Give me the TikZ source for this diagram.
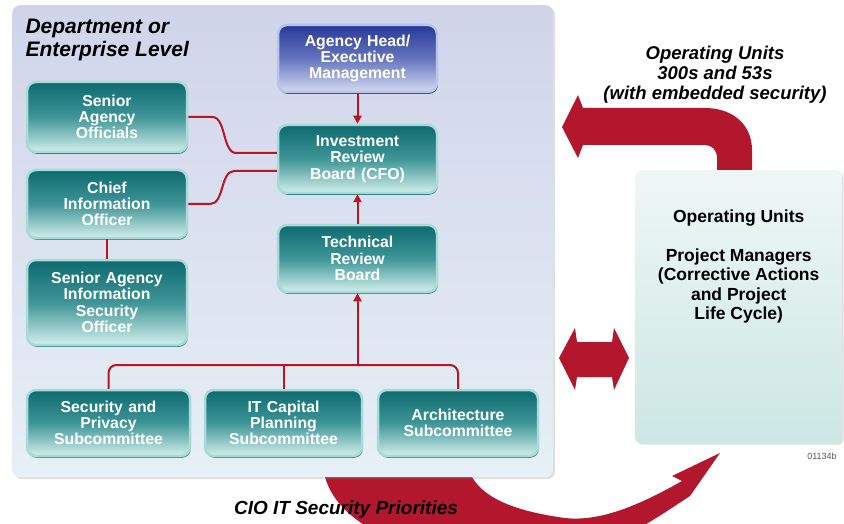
\documentclass[tikz,border=0pt]{standalone}
\usepackage{fontspec}
\setmainfont{Liberation Sans}
\usetikzlibrary{shadows,arrows.meta,calc}
\definecolor{panelTop}{HTML}{D0D4EA}
\definecolor{panelBot}{HTML}{E6F0F6}
\definecolor{tealTop}{HTML}{0D6A6E}
\definecolor{tealMid}{HTML}{3F9597}
\definecolor{tealBot}{HTML}{D2EFEC}
\definecolor{tealRim}{HTML}{A9DAD7}
\definecolor{tealDark}{HTML}{22777A}
\definecolor{blueTop}{HTML}{27399A}
\definecolor{blueMid}{HTML}{6674BE}
\definecolor{blueBot}{HTML}{D5DBF3}
\definecolor{blueRim}{HTML}{B9C4EC}
\definecolor{blueDark}{HTML}{2D3E96}
\definecolor{ouTop}{HTML}{EEF7F6}
\definecolor{ouBot}{HTML}{CCE7E4}
\definecolor{bigRed}{HTML}{B3172E}
\definecolor{lineRed}{HTML}{C0121F}
\tikzset{
  tbox/.style={rounded corners=9pt, draw=tealRim, line width=2.5pt,
    top color=tealTop, bottom color=tealBot, middle color=tealMid,
    text=white, align=center, inner sep=0pt, text width=156pt,
    font=\bfseries\fontsize{15.8}{16.3}\selectfont,
    drop shadow={shadow xshift=0.8pt, shadow yshift=-1.8pt, fill=tealDark, opacity=1}},
  bbox/.style={tbox, draw=blueRim, top color=blueTop, bottom color=blueBot, middle color=blueMid,
    drop shadow={shadow xshift=0.8pt, shadow yshift=-1.8pt, fill=blueDark, opacity=1}},
  conn/.style={draw=lineRed, line width=2pt},
  arr/.style={conn, -{Triangle[length=8pt,width=8pt]}},
  bigarrow/.style={fill=bigRed, draw=none},
  ital/.style={font=\bfseries\itshape\fontsize{18.5}{20}\selectfont, align=center}
}
\begin{document}
\begin{tikzpicture}[x=1pt,y=-1pt]
\useasboundingbox (0,0) rectangle (844,524);
\fill[white] (0,0) rectangle (844,524);

% bottom crescent arrow
\begin{scope}
\clip (0,0) rectangle (844,524);
\fill[bigarrow] (325,470) -- (325,477) .. controls (340,530) and (420,560) .. (520,560)
  .. controls (600,560) and (650,522) .. (690,496) -- (720,453) -- (672,476) -- (682,481)
  .. controls (640,505) and (600,522) .. (565,518)
  .. controls (520,512) and (485,500) .. (472,477) -- (472,470) -- cycle;
\end{scope}

% panel
\node[name=panel, rounded corners=8pt, top color=panelTop, bottom color=panelBot,
  minimum width=541pt, minimum height=472pt, inner sep=0pt, anchor=north west,
  drop shadow={shadow xshift=2pt, shadow yshift=-2pt, opacity=0.25}] at (12,5) {};

\node[anchor=north west, font=\bfseries\itshape\fontsize{21}{23}\selectfont, align=left] (title) at (22,16) {Department or\\Enterprise Level};

% top curved arrow
\fill[bigarrow] (752,175) -- (752,150) .. controls (752,124) and (732,108) .. (705,108)
  -- (583,108) -- (578,95) -- (562,127) -- (578,158) -- (583,145) -- (705,145)
  .. controls (712,145) and (717,150) .. (717,158) -- (717,175) -- cycle;

% double arrow
\fill[bigarrow] (559,358) -- (575,328) -- (577,342) -- (612,342) -- (614,328) -- (629,358)
  -- (614,390) -- (612,377) -- (577,377) -- (575,390) -- cycle;

% operating units box
\node[name=ou, rounded corners=6pt, top color=ouTop, bottom color=ouBot,
  minimum width=207pt, minimum height=273pt, inner sep=0pt, anchor=north west,
  drop shadow={shadow xshift=1.5pt, shadow yshift=-1.5pt, opacity=0.25}] at (635,170) {};
\node[anchor=north, align=center, font=\bfseries\fontsize{17.5}{19.5}\selectfont] (outext)
  at ($(ou.north)+(0,36)$) {Operating Units\\[19.5pt]Project Managers\\(Corrective Actions\\and Project\\Life Cycle)};

\node[ital] (optext) at (715,75) {Operating Units\\300s and 53s\\(with embedded security)};
\node[ital, font=\bfseries\itshape\fontsize{19}{20}\selectfont] (cio-text) at (346,510) {CIO IT Security Priorities};
\node[text=black!65, font=\fontsize{9}{10}\selectfont] (code) at (822,456) {01134b};

% boxes
\node[tbox, minimum width=160pt, minimum height=70pt] (sao) at (107,117) {Senior\\Agency\\Officials};
\node[tbox, minimum width=160pt, minimum height=68pt] (cio) at (107,204) {Chief\\Information\\Officer};
\node[tbox, minimum width=160pt, minimum height=85pt] (saiso) at (107,302.5) {Senior Agency\\Information\\Security\\Officer};
\node[bbox, minimum width=159pt, minimum height=67pt] (ahead) at (357.5,58.5) {Agency Head/\\Executive\\Management};
\node[tbox, minimum width=159pt, minimum height=68pt] (irb) at (357.5,159) {Investment\\Review\\Board (CFO)};
\node[tbox, minimum width=159pt, minimum height=67pt] (trb) at (357.5,258.5) {Technical\\Review\\Board};
\node[tbox, minimum width=163pt, minimum height=66pt] (sps) at (108.5,423) {Security and\\Privacy\\Subcommittee};
\node[tbox, minimum width=157pt, minimum height=66pt] (itc) at (283.5,423) {IT Capital\\Planning\\Subcommittee};
\node[tbox, minimum width=160pt, minimum height=66pt] (arch) at (458,423) {Architecture\\Subcommittee};

% connectors
\draw[conn] (sao.east) -- ++(24,0) .. controls +(14,0) and +(-14,0) .. ++(24,36) -- (irb.west |- 0,153);
\draw[conn] (cio.east) -- ++(22,0) .. controls +(14,0) and +(-14,0) .. ++(24,-33) -- (irb.west |- 0,171);
\draw[conn] (cio.south) -- (saiso.north);
\draw[arr] (ahead.south) -- (irb.north);
\draw[arr] (trb.north) -- (irb.south);
\coordinate (bus) at (357.5,365);
\draw[conn, rounded corners=8pt] (sps.north) |- (bus -| arch.north) -- (arch.north);
\draw[conn] (itc.north) -- (itc.north |- bus);
\draw[arr] (bus) -- (trb.south);
\end{tikzpicture}
\end{document}
